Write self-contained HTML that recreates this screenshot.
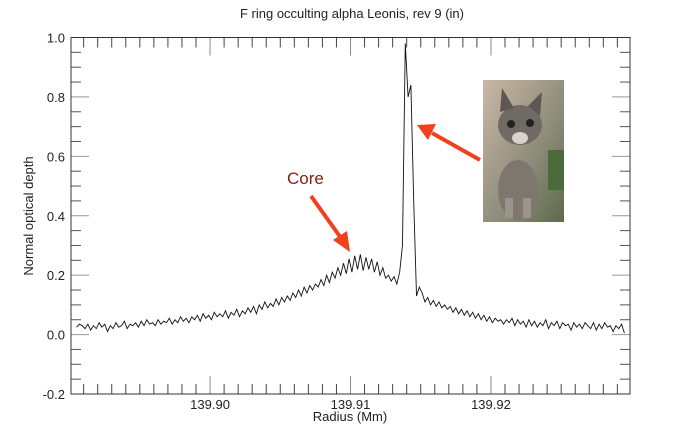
<!DOCTYPE html>
<html><head><meta charset="utf-8"><style>
body{margin:0;background:#fff;}
svg{display:block;font-family:"Liberation Sans",Arial,sans-serif;}
</style></head><body>
<svg id="chart" width="691" height="431" viewBox="0 0 691 431" xmlns="http://www.w3.org/2000/svg">
<rect width="691" height="431" fill="#fff"/>
<text x="352" y="18" font-size="13" text-anchor="middle" fill="#222">F ring occulting alpha Leonis, rev 9 (in)</text>
<text transform="translate(33,216) rotate(-90)" font-size="13" text-anchor="middle" fill="#222">Normal optical depth</text>
<text x="350" y="421" font-size="13" text-anchor="middle" fill="#222">Radius (Mm)</text>
<g id="ticks"></g>
<path id="series" fill="none" stroke="#111" stroke-width="0.9"/>
<rect x="71" y="37.5" width="559" height="356.5" fill="none" stroke="#333" stroke-width="1"/>
<g>
<defs><linearGradient id="bg" x1="0" y1="0" x2="1" y2="1"><stop offset="0" stop-color="#c9b9a6"/><stop offset="0.6" stop-color="#8c8a78"/><stop offset="1" stop-color="#5e6a4e"/></linearGradient></defs>
<rect x="483" y="80" width="81" height="142" fill="url(#bg)"/>
<rect x="548" y="150" width="16" height="40" fill="#4d6a3a"/>
<ellipse cx="518" cy="190" rx="20" ry="30" fill="#7d776e"/>
<ellipse cx="520" cy="125" rx="22" ry="20" fill="#6f6a63"/>
<polygon points="500,112 502,88 514,108" fill="#5d5852"/>
<polygon points="528,106 542,92 540,116" fill="#5d5852"/>
<circle cx="511" cy="124" r="4" fill="#222"/><circle cx="530" cy="123" r="4" fill="#222"/>
<ellipse cx="520" cy="138" rx="8" ry="6" fill="#d8d2ca"/>
<rect x="505" y="198" width="8" height="20" fill="#9a948a"/><rect x="523" y="198" width="8" height="20" fill="#9a948a"/>
</g>
<text x="287" y="184" font-size="17" fill="#8a1a10">Core</text>
<g fill="#f2401c" stroke="#f2401c">
<line x1="311" y1="196" x2="341" y2="238" stroke-width="4"/>
<polygon points="350,252 333,240 347,231" stroke="none"/>
</g>
<g fill="#f2401c" stroke="#f2401c">
<line x1="480" y1="160" x2="432" y2="133" stroke-width="4"/>
<polygon points="417,125 436,124 428,140" stroke="none"/>
</g>
</svg>
<script>
const xStart = 139.8905;
const xStep = 0.0002;
const tau = [
0.025,0.035,
0.03,0.02,0.035,0.015,0.03,0.02,0.04,0.025,0.035,0.01,
0.03,0.02,0.04,0.025,0.03,0.045,0.02,0.035,0.03,0.04,
0.025,0.045,0.03,0.05,0.035,0.04,0.03,0.05,0.035,0.045,
0.04,0.055,0.035,0.05,0.04,0.06,0.045,0.055,0.04,0.06,
0.05,0.065,0.045,0.07,0.055,0.065,0.05,0.075,0.06,0.07,
0.06,0.08,0.055,0.075,0.065,0.085,0.06,0.08,0.07,0.09,
0.075,0.095,0.07,0.1,0.085,0.11,0.09,0.105,0.095,0.12,
0.1,0.125,0.11,0.13,0.115,0.14,0.125,0.15,0.13,0.16,
0.14,0.165,0.15,0.17,0.16,0.185,0.165,0.2,0.175,0.21,
0.19,0.225,0.2,0.24,0.205,0.255,0.21,0.265,0.22,0.27,
0.215,0.26,0.22,0.255,0.21,0.245,0.2,0.225,0.19,0.2,
0.18,0.195,0.17,0.21,0.3,0.98,0.8,0.84,0.45,0.13,
0.16,0.14,0.11,0.125,0.1,0.115,0.095,0.11,0.09,0.1,
0.085,0.095,0.075,0.09,0.07,0.085,0.065,0.08,0.06,0.075,
0.055,0.07,0.05,0.065,0.045,0.06,0.04,0.055,0.045,0.05,
0.035,0.05,0.04,0.055,0.03,0.05,0.035,0.045,0.025,0.05,
0.03,0.045,0.025,0.04,0.03,0.05,0.02,0.04,0.03,0.045,
0.02,0.04,0.03,0.035,0.015,0.04,0.025,0.035,0.02,0.04,
0.03,0.02,0.04,0.015,0.035,0.02,0.04,0.025,0.03,0.01,
0.03,0.02,0.035,0.005];
const xTickLabels = ["139.90","139.91","139.92"];
const xTickValues = [139.90,139.91,139.92];
const yTickLabels = ["-0.2","0.0","0.2","0.4","0.6","0.8","1.0"];
const yTickValues = [-0.2,0,0.2,0.4,0.6,0.8,1.0];

const X0=71,X1=630,Y0=394,Y1=37.5;
const xMin=139.8901,xMax=139.9299,yMin=-0.2,yMax=1.0;
const sx=v=>X0+(v-xMin)/(xMax-xMin)*(X1-X0);
const sy=v=>Y0-(v-yMin)/(yMax-yMin)*(Y0-Y1);
const NS="http://www.w3.org/2000/svg";
const g=document.getElementById('ticks');
function ln(x1,y1,x2,y2,c){const l=document.createElementNS(NS,'line');l.setAttribute('x1',x1);l.setAttribute('y1',y1);l.setAttribute('x2',x2);l.setAttribute('y2',y2);l.setAttribute('stroke',c);l.setAttribute('stroke-width',1);g.appendChild(l);return l;}
for(let k=-9;k<30;k++){const v=139.90+k*0.001;const x=sx(v);if(x<=X0+1||x>=X1-1)continue;const major=((k%10)+10)%10===0;const L=major?18:10;
const a=ln(x,Y0,x,Y0-L,major?'#888':'#444');


const b=ln(x,Y1,x,Y1+L,major?'#888':'#444');

}
for(let k=1;k<24;k++){const v=yMin+k*0.05;const y=sy(v);const major=k%4===0;const L=major?18:10;
const a=ln(X0,y,X0+L,y,major?'#999':'#555');


const b=ln(X1,y,X1-L,y,major?'#999':'#555');

}
xTickValues.forEach((v,i)=>{const t=document.createElementNS(NS,'text');t.setAttribute('x',sx(v));t.setAttribute('y',409);t.setAttribute('font-size','13');t.setAttribute('text-anchor','middle');t.setAttribute('fill','#222');t.textContent=xTickLabels[i];


g.appendChild(t);});
yTickValues.forEach((v,i)=>{const t=document.createElementNS(NS,'text');t.setAttribute('x',65);t.setAttribute('y',sy(v)+5);t.setAttribute('font-size','13');t.setAttribute('text-anchor','end');t.setAttribute('fill','#222');t.textContent=yTickLabels[i];


g.appendChild(t);});
let d='';tau.forEach((v,i)=>{const x=sx(xStart+i*xStep);d+=(i?'L':'M')+x.toFixed(2)+','+sy(v).toFixed(2);});
document.getElementById('series').setAttribute('d',d);
</script>
</body></html>
